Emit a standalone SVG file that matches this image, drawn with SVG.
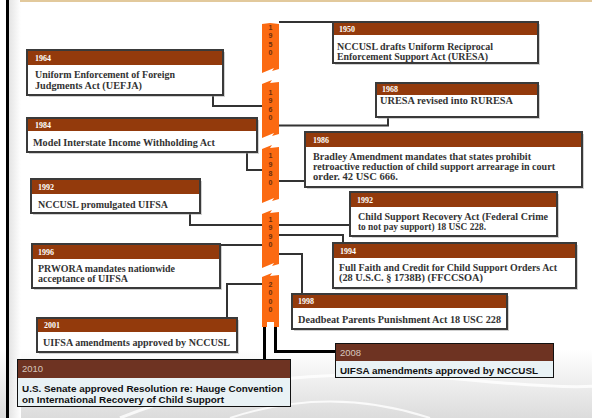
<svg xmlns="http://www.w3.org/2000/svg" width="592" height="418" viewBox="0 0 592 418">
<defs>
<linearGradient id="bg" x1="0" y1="0" x2="0" y2="1">
<stop offset="0" stop-color="#ffffff"/>
<stop offset="1" stop-color="#dcdcdc"/>
</linearGradient>
<linearGradient id="strip" x1="0" y1="0" x2="1" y2="0">
<stop offset="0" stop-color="#e4e4e4"/>
<stop offset="1" stop-color="#ffffff"/>
</linearGradient>
<style>
.body{fill:#fff;stroke:#3a3a3a;stroke-width:2}
.shadow{fill:#9a9a9a;opacity:.45}
.hdr{fill:#933a0c}
.yr{font-family:"Liberation Serif",serif;font-weight:bold;font-size:8px;fill:#fff}
.tx{font-family:"Liberation Serif",serif;font-weight:bold;font-size:10px;fill:#333}
.mbody{fill:#e9f2f5;stroke:#111;stroke-width:1}
.mhdr{fill:#6e3322}
.myr{font-family:"Liberation Sans",sans-serif;font-size:9.5px;fill:#d6c6bd}
.mtx{font-family:"Liberation Sans",sans-serif;font-weight:bold;font-size:9.6px;fill:#111}
.seg{fill:#fb6a12}
.dig{font-family:"Liberation Sans",sans-serif;font-weight:bold;font-size:7px;fill:#6a2e0c;text-anchor:middle}
.thin{fill:none;stroke:#333;stroke-width:2}
.thick{fill:none;stroke:#000;stroke-width:3}
</style>
</defs>
<rect x="0" y="0" width="592" height="418" fill="#fff"/>
<rect x="0" y="350" width="592" height="68" fill="url(#bg)"/>
<path d="M120,418 Q260,360 470,380 T592,360" fill="none" stroke="#fff" stroke-width="3" opacity=".8"/>
<path d="M230,418 Q330,385 430,418" fill="none" stroke="#fff" stroke-width="2" opacity=".8"/>
<rect x="9" y="0" width="12" height="418" fill="url(#strip)"/>
<rect x="6" y="0" width="3" height="418" fill="#000"/>
<rect x="20" y="0" width="572" height="2" fill="#e2c99c"/>

<g id="timeline">
<path class="seg" d="M262,24 L270,23 L279,24 L279,69 L272,71 L274,68 L262,73 Z"/>
<path class="seg" d="M262,84 L272,80 L270,83 L279,82 L279,134 L272,136 L274,133 L262,138 Z"/>
<path class="seg" d="M262,149 L272,145 L270,148 L279,147 L279,199 L272,201 L274,198 L262,203 Z"/>
<path class="seg" d="M262,214 L272,210 L270,213 L279,212 L279,264 L272,266 L274,263 L262,268 Z"/>
<path class="seg" d="M262,277 L272,273 L270,276 L279,275 L279,327 L274,327 L274,322 L267,322 L267,327 L262,327 Z"/>
<text class="dig" x="270.5" y="29.5">1<tspan x="270.5" dy="8.5">9</tspan><tspan x="270.5" dy="8.5">5</tspan><tspan x="270.5" dy="8.5">0</tspan></text>
<text class="dig" x="270.5" y="94.5">1<tspan x="270.5" dy="8.5">9</tspan><tspan x="270.5" dy="8.5">6</tspan><tspan x="270.5" dy="8.5">0</tspan></text>
<text class="dig" x="270.5" y="158">1<tspan x="270.5" dy="9">9</tspan><tspan x="270.5" dy="9">8</tspan><tspan x="270.5" dy="9">0</tspan></text>
<text class="dig" x="270.5" y="221.5">1<tspan x="270.5" dy="8.5">9</tspan><tspan x="270.5" dy="8.5">9</tspan><tspan x="270.5" dy="8.5">0</tspan></text>
<text class="dig" x="270.5" y="286.5">2<tspan x="270.5" dy="8.5">0</tspan><tspan x="270.5" dy="8.5">0</tspan><tspan x="270.5" dy="8.5">0</tspan></text>
</g>

<g id="connectors">
<path class="thin" d="M279,22 H333"/>
<path class="thin" d="M213,95 V106 H262"/>
<path class="thin" d="M279,125.5 H388 V117"/>
<path class="thin" d="M247,152 V170 H262"/>
<path class="thin" d="M279,181 H305"/>
<path class="thin" d="M190,213 V225 H262"/>
<path class="thin" d="M279,225 H350"/>
<path class="thin" d="M279,235 H343 V243"/>
<path class="thin" d="M220,245 H262"/>
<path class="thin" d="M279,254 H302 V294"/>
<path class="thin" d="M227,318 V284 H262"/>
<path class="thick" d="M264.5,327 V359"/>
<path class="thick" d="M275.5,327 V351.5 H335"/>
</g>

<g id="n1950">
<rect class="shadow" x="335" y="24" width="205" height="41"/>
<rect class="body" x="333" y="22" width="205" height="41"/>
<rect class="hdr" x="334" y="23" width="203" height="12"/>
<text class="yr" x="339" y="32">1950</text>
<text class="tx" x="337" y="49.5" textLength="156" lengthAdjust="spacingAndGlyphs">NCCUSL drafts Uniform Reciprocal</text>
<text class="tx" x="337" y="59.5" textLength="151" lengthAdjust="spacingAndGlyphs">Enforcement Support Act (URESA)</text>
</g>

<g id="n1964">
<rect class="shadow" x="29" y="52" width="196" height="45"/>
<rect class="body" x="27" y="50" width="196" height="45"/>
<rect class="hdr" x="28" y="51" width="194" height="14"/>
<text class="yr" x="35" y="61">1964</text>
<text class="tx" x="35" y="78" textLength="140" lengthAdjust="spacingAndGlyphs">Uniform Enforcement of Foreign</text>
<text class="tx" x="35" y="89" textLength="107" lengthAdjust="spacingAndGlyphs">Judgments Act (UEFJA)</text>
</g>

<g id="n1968">
<rect class="shadow" x="378" y="85" width="162" height="34"/>
<rect class="body" x="376" y="83" width="162" height="34"/>
<rect class="hdr" x="377" y="84" width="160" height="11"/>
<text class="yr" x="382" y="92">1968</text>
<text class="tx" x="380" y="104" textLength="133" lengthAdjust="spacingAndGlyphs">URESA revised into RURESA</text>
</g>

<g id="n1984">
<rect class="shadow" x="29" y="120" width="230" height="34"/>
<rect class="body" x="27" y="118" width="230" height="34"/>
<rect class="hdr" x="28" y="119" width="228" height="12"/>
<text class="yr" x="35" y="128">1984</text>
<text class="tx" x="33" y="146" textLength="182" lengthAdjust="spacingAndGlyphs">Model Interstate Income Withholding Act</text>
</g>

<g id="n1986">
<rect class="shadow" x="307" y="134" width="277" height="55"/>
<rect class="body" x="305" y="132" width="277" height="55"/>
<rect class="hdr" x="306" y="133" width="275" height="14"/>
<text class="yr" x="313" y="143">1986</text>
<text class="tx" x="313" y="160" textLength="218" lengthAdjust="spacingAndGlyphs">Bradley Amendment mandates that states prohibit</text>
<text class="tx" x="313" y="170" textLength="242" lengthAdjust="spacingAndGlyphs">retroactive reduction of child support arrearage in court</text>
<text class="tx" x="313" y="180" textLength="85" lengthAdjust="spacingAndGlyphs">order.  42 USC 666.</text>
</g>

<g id="n1992a">
<rect class="shadow" x="33" y="181" width="169" height="34"/>
<rect class="body" x="31" y="179" width="169" height="34"/>
<rect class="hdr" x="32" y="180" width="167" height="14"/>
<text class="yr" x="38" y="190">1992</text>
<text class="tx" x="38" y="208" textLength="130" lengthAdjust="spacingAndGlyphs">NCCUSL promulgated UIFSA</text>
</g>

<g id="n1992b">
<rect class="shadow" x="352" y="194" width="207" height="44"/>
<rect class="body" x="350" y="192" width="207" height="44"/>
<rect class="hdr" x="351" y="193" width="205" height="14"/>
<text class="yr" x="357" y="203">1992</text>
<text class="tx" x="358" y="220" textLength="190" lengthAdjust="spacingAndGlyphs">Child Support Recovery Act (Federal Crime</text>
<text class="tx" x="358" y="230" textLength="128" lengthAdjust="spacingAndGlyphs">to not pay support)  18 USC 228.</text>
</g>

<g id="n1994">
<rect class="shadow" x="335" y="245" width="243" height="45"/>
<rect class="body" x="333" y="243" width="243" height="45"/>
<rect class="hdr" x="334" y="244" width="241" height="14"/>
<text class="yr" x="340" y="254">1994</text>
<text class="tx" x="339" y="271" textLength="218" lengthAdjust="spacingAndGlyphs">Full Faith and Credit for Child Support Orders Act</text>
<text class="tx" x="339" y="281" textLength="144" lengthAdjust="spacingAndGlyphs">(28 U.S.C. § 1738B) (FFCCSOA)</text>
</g>

<g id="n1996">
<rect class="shadow" x="34" y="246" width="188" height="44"/>
<rect class="body" x="32" y="244" width="188" height="44"/>
<rect class="hdr" x="33" y="245" width="186" height="14"/>
<text class="yr" x="38" y="255">1996</text>
<text class="tx" x="38" y="272" textLength="137" lengthAdjust="spacingAndGlyphs">PRWORA mandates nationwide</text>
<text class="tx" x="38" y="282" textLength="90" lengthAdjust="spacingAndGlyphs">acceptance of UIFSA</text>
</g>

<g id="n1998">
<rect class="shadow" x="294" y="296" width="215" height="35"/>
<rect class="body" x="292" y="294" width="215" height="35"/>
<rect class="hdr" x="293" y="295" width="213" height="13"/>
<text class="yr" x="298" y="304">1998</text>
<text class="tx" x="298" y="323" textLength="203" lengthAdjust="spacingAndGlyphs">Deadbeat Parents Punishment Act 18 USC 228</text>
</g>

<g id="n2001">
<rect class="shadow" x="39" y="320" width="200" height="34"/>
<rect class="body" x="37" y="318" width="200" height="34"/>
<rect class="hdr" x="38" y="319" width="198" height="13"/>
<text class="yr" x="44" y="328">2001</text>
<text class="tx" x="43" y="346" textLength="187" lengthAdjust="spacingAndGlyphs">UIFSA amendments approved by NCCUSL</text>
</g>

<g id="n2010">
<rect class="mbody" x="17.5" y="359.5" width="273" height="47"/>
<rect class="mhdr" x="18" y="360" width="272" height="18"/>
<text class="myr" x="22" y="372">2010</text>
<text class="mtx" x="22" y="391.5" textLength="261" lengthAdjust="spacingAndGlyphs">U.S. Senate approved Resolution re: Hauge Convention</text>
<text class="mtx" x="22" y="403" textLength="202" lengthAdjust="spacingAndGlyphs">on International Recovery of Child Support</text>
</g>

<g id="n2008">
<rect class="mbody" x="335.5" y="343.5" width="218" height="34"/>
<rect class="mhdr" x="336" y="344" width="217" height="17"/>
<text class="myr" x="340" y="356">2008</text>
<text class="mtx" x="340" y="373.5" textLength="198" lengthAdjust="spacingAndGlyphs">UIFSA amendments approved by NCCUSL</text>
</g>
</svg>
